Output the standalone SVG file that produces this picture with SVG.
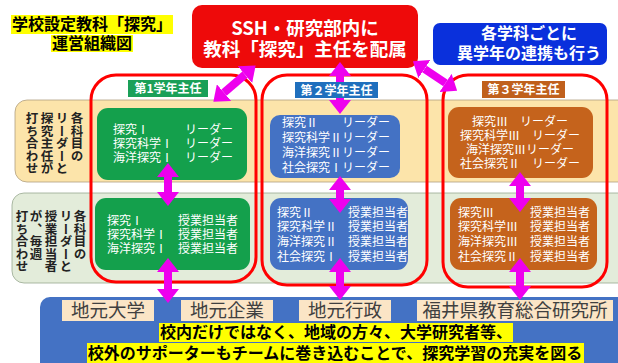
<svg xmlns="http://www.w3.org/2000/svg" width="618" height="363" viewBox="0 0 618 363">
<defs>
<style>
text{font-family:"Noto Sans CJK JP","Noto Sans",sans-serif;}
.t{font-size:16px;font-weight:bold;fill:#000;}
.w{fill:#fff;}
.b{font-weight:bold;}
.n{font-size:12px;fill:#fff;}
.h{font-size:12px;fill:#fff;font-weight:bold;}
.v{font-size:12.5px;font-weight:bold;fill:#222;writing-mode:vertical-rl;}
.lab{font-size:18.5px;fill:#404040;}
.hl{fill:#ffff00;}
.col{fill:none;stroke:#ff0000;stroke-width:3;}
.con line{stroke:#ee00ee;stroke-width:8;marker-start:url(#ah);marker-end:url(#ah);}
</style>
<marker id="ah" markerUnits="userSpaceOnUse" markerWidth="14" markerHeight="22" viewBox="0 0 14 22" refX="0" refY="11" orient="auto-start-reverse">
<path d="M0,0 L14,11 L0,22 z" fill="#ee00ee"/>
</marker>
</defs>
<rect width="618" height="363" fill="#fff"/>

<g id="title">
<rect class="hl" x="11" y="15" width="162" height="19"/>
<rect class="hl" x="51" y="35" width="82" height="17"/>
<text class="t" x="92" y="30" text-anchor="middle">学校設定教科「探究」</text>
<text class="t" x="92" y="49" text-anchor="middle">運営組織図</text>
</g>

<g id="band-leader">
<rect x="15" y="100" width="615" height="82" rx="12" fill="#fce4aa" stroke="#b0a080" stroke-width="0.8"/>
<text class="v" x="77" y="112">各科目の</text>
<text class="v" x="62" y="112">リーダーと</text>
<text class="v" x="47" y="112">探究主任が</text>
<text class="v" x="32" y="112">打ち合わせ</text>
</g>
<g id="band-teacher">
<rect x="12" y="193" width="620" height="90" rx="12" fill="#e3ecda" stroke="#98a890" stroke-width="0.8"/>
<text class="v" x="80" y="210">各科目の</text>
<text class="v" x="66" y="210">リーダーと</text>
<text class="v" x="51" y="210">授業担当者</text>
<text class="v" x="36" y="210">が、毎週</text>
<text class="v" x="22" y="210">打ち合わせ</text>
</g>

<g id="year-groups">
<rect class="col" x="91" y="75" width="165" height="207" rx="25"/>
<rect class="col" x="262" y="75" width="165" height="210" rx="25"/>
<rect class="col" x="443" y="75" width="164" height="212" rx="25"/>
</g>

<g id="ssh">
<rect x="192" y="5" width="226" height="63" rx="10" fill="#ee0a0a"/>
<text class="w b" x="305" y="35" font-size="18.5" text-anchor="middle">SSH・研究部内に</text>
<text class="w b" x="305" y="56" font-size="18.5" text-anchor="middle">教科「探究」主任を配属</text>
</g>

<g id="renkei">
<rect x="433" y="23" width="174" height="42" rx="7" fill="#0a30dc"/>
<text class="w b" x="529" y="39" font-size="16" text-anchor="middle">各学科ごとに</text>
<text class="w b" x="529" y="59" font-size="16" text-anchor="middle">異学年の連携も行う</text>
</g>

<g id="leader1">
<rect x="97" y="108" width="150" height="72" rx="11" fill="#14a04c"/>
<text class="n" x="113" y="134">探究Ⅰ</text><text class="n" x="185" y="134">リーダー</text>
<text class="n" x="113" y="148">探究科学Ⅰ</text><text class="n" x="185" y="148">リーダー</text>
<text class="n" x="113" y="162">海洋探究Ⅰ</text><text class="n" x="185" y="162">リーダー</text>
</g>
<g id="leader2">
<rect x="270" y="115" width="130" height="63" rx="10" fill="#4472c4"/>
<text class="n" x="282" y="127">探究Ⅱ</text><text class="n" x="342" y="127">リーダー</text>
<text class="n" x="282" y="142">探究科学Ⅱリーダー</text>
<text class="n" x="282" y="157">海洋探究Ⅱリーダー</text>
<text class="n" x="282" y="172">社会探究Ⅰリーダー</text>
</g>
<g id="leader3">
<rect x="448" y="107" width="145" height="71" rx="11" fill="#c5631c"/>
<text class="n" x="520" y="126" text-anchor="middle">探究Ⅲ　リーダー</text>
<text class="n" x="520" y="140" text-anchor="middle">探究科学Ⅲ　リーダー</text>
<text class="n" x="520" y="154" text-anchor="middle">海洋探究Ⅲリーダー</text>
<text class="n" x="520" y="168" text-anchor="middle">社会探究Ⅱ　リーダー</text>
</g>

<g id="teacher1">
<rect x="95" y="198" width="155" height="72" rx="11" fill="#14a04c"/>
<text class="n" x="107" y="225">探究Ⅰ</text><text class="n" x="178" y="225">授業担当者</text>
<text class="n" x="107" y="239">探究科学Ⅰ</text><text class="n" x="178" y="239">授業担当者</text>
<text class="n" x="107" y="253">海洋探究Ⅰ</text><text class="n" x="178" y="253">授業担当者</text>
</g>
<g id="teacher2">
<rect x="270" y="198" width="138" height="72" rx="11" fill="#4472c4"/>
<text class="n" x="277" y="217">探究Ⅱ</text><text class="n" x="348" y="217">授業担当者</text>
<text class="n" x="277" y="231">探究科学Ⅱ</text><text class="n" x="348" y="231">授業担当者</text>
<text class="n" x="277" y="246">海洋探究Ⅱ</text><text class="n" x="348" y="246">授業担当者</text>
<text class="n" x="277" y="261">社会探究Ⅰ</text><text class="n" x="348" y="261">授業担当者</text>
</g>
<g id="teacher3">
<rect x="450" y="198" width="147" height="72" rx="11" fill="#c5631c"/>
<text class="n" x="458" y="217">探究Ⅲ</text><text class="n" x="530" y="217">授業担当者</text>
<text class="n" x="458" y="231">探究科学Ⅲ</text><text class="n" x="530" y="231">授業担当者</text>
<text class="n" x="458" y="246">海洋探究Ⅲ</text><text class="n" x="530" y="246">授業担当者</text>
<text class="n" x="458" y="261">社会探究Ⅱ</text><text class="n" x="530" y="261">授業担当者</text>
</g>

<g id="community">
<rect x="40" y="297" width="590" height="80" rx="10" fill="#4472c4"/>
<rect x="62" y="300" width="92" height="21" fill="#fbe5c6"/>
<text class="lab" x="108" y="317" text-anchor="middle">地元大学</text>
<rect x="181" y="300" width="92" height="21" fill="#fbe5c6"/>
<text class="lab" x="227" y="317" text-anchor="middle">地元企業</text>
<rect x="299" y="300" width="92" height="21" fill="#fbe5c6"/>
<text class="lab" x="345" y="317" text-anchor="middle">地元行政</text>
<rect x="417" y="300" width="196" height="21" fill="#fbe5c6"/>
<text class="lab" x="515" y="317" text-anchor="middle">福井県教育総合研究所</text>
<rect class="hl" x="159" y="323" width="354" height="19"/>
<rect class="hl" x="87" y="343" width="497" height="20"/>
<text class="t" x="336" y="338" text-anchor="middle">校内だけではなく、地域の方々、大学研究者等、</text>
<text class="t" x="335" y="359" text-anchor="middle">校外のサポーターもチームに巻き込むことで、探究学習の充実を図る</text>
</g>

<g id="connectors" class="con">
<line x1="245" y1="74.6" x2="224" y2="92.6"/>
<line x1="340" y1="76" x2="340" y2="100"/>
<line x1="424.5" y1="69" x2="445.5" y2="83"/>
<line x1="168" y1="177" x2="168" y2="192"/>
<line x1="340" y1="190" x2="340" y2="199"/>
<line x1="520" y1="186" x2="520" y2="198"/>
<line x1="168" y1="272" x2="168" y2="289"/>
<line x1="340" y1="272" x2="340" y2="286"/>
<line x1="520" y1="272" x2="520" y2="286"/>
</g>

<g id="head1">
<rect x="128" y="80" width="80" height="17" fill="#1aa058"/>
<text class="h" x="168" y="93" text-anchor="middle">第1学年主任</text>
</g>
<g id="head2">
<rect x="295" y="82" width="83" height="16" fill="#1f6fbd"/>
<text class="h" x="336.5" y="94.5" text-anchor="middle">第２学年主任</text>
</g>
<g id="head3">
<rect x="482" y="81" width="83" height="17" fill="#c0601c"/>
<text class="h" x="523.5" y="94" text-anchor="middle">第３学年主任</text>
</g>
</svg>
